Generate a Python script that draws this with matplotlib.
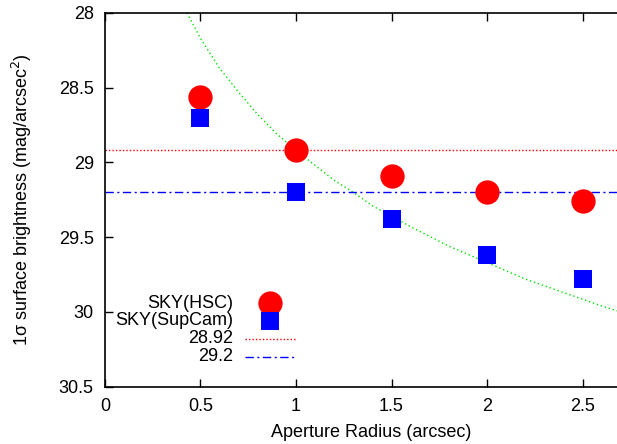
import matplotlib
matplotlib.use("Agg")
from matplotlib import pyplot as plt
from matplotlib.ticker import FormatStrFormatter

plt.rcParams['font.family'] = ['Liberation Sans', 'DejaVu Sans']

# aperture radius (arcsec)
radius = [0.5, 1.0, 1.5, 2.0, 2.5]
sky_hsc = [28.56, 28.92, 29.09, 29.20, 29.26]
sky_supcam = [28.70, 29.20, 29.38, 29.62, 29.78]

# reference levels
level_hsc = 28.92
level_supcam = 29.2

# green dotted curve
curve_r = [0.43, 0.45, 0.5, 0.55, 0.6, 0.7, 0.8, 0.9, 1.0, 1.1, 1.2, 1.3,
           1.4, 1.5, 1.6, 1.8, 2.0, 2.2, 2.4, 2.6, 2.7]
curve_sb = [28.00, 28.05, 28.17, 28.27, 28.37, 28.53, 28.68, 28.81, 28.92,
            29.02, 29.12, 29.20, 29.29, 29.36, 29.43, 29.56, 29.67, 29.78,
            29.87, 29.96, 30.00]

x_ticks = [0, 0.5, 1, 1.5, 2, 2.5]
y_ticks = [28, 28.5, 29, 29.5, 30, 30.5]

FS = 13

fig = plt.figure(figsize=(6.17, 4.44), dpi=100)
ax = fig.add_axes([0.170, 0.129, 0.830, 0.842])

ax.plot(curve_r, curve_sb, color="#00e000", lw=1.0, ls=(0, (1, 2)))
ax.axhline(level_hsc, color="red", lw=1.0, ls=(0, (1, 1.5)))
ax.axhline(level_supcam, color="blue", lw=1.0, ls=(0, (6, 2.5, 1.5, 2.5)))
ax.plot(radius, sky_hsc, "o", color="red", ms=17.5, mew=0, ls="none")
ax.plot(radius, sky_supcam, "s", color="blue", ms=12.5, mew=0, ls="none")

ax.set_xlim(0, 2.68)
ax.set_ylim(30.5, 28)
ax.set_xticks(x_ticks)
ax.set_yticks(y_ticks)
ax.xaxis.set_major_formatter(FormatStrFormatter('%g'))
ax.yaxis.set_major_formatter(FormatStrFormatter('%g'))
ax.tick_params(direction="in", length=6, width=1, labelsize=FS, top=True)
ax.tick_params(axis="y", pad=8)
ax.tick_params(axis="x", pad=8)
ax.spines['right'].set_visible(False)
for s in ['left', 'bottom', 'top']:
    ax.spines[s].set_linewidth(1.2)

ax.set_xlabel("Aperture Radius (arcsec)", fontsize=FS, va="center")
ax.set_ylabel("1σ surface brightness (mag/arcsec$^2$)", fontsize=FS, va="center")
ax.xaxis.set_label_coords((371 - 105) / 512, (386.7 - 432) / 373.7)
ax.yaxis.set_label_coords((22 - 105) / 512, 0.5)

# gnuplot-style key: right-aligned labels, samples to the right
key_labels = ["SKY(HSC)", "SKY(SupCam)", "28.92", "29.2"]
key_y = [0.223, 0.176, 0.128, 0.080]
tx = (233 - 105) / 512
sx0, sx1 = (245 - 105) / 512, (296 - 105) / 512
for lab, yy in zip(key_labels, key_y):
    ax.text(tx, yy, lab, transform=ax.transAxes, ha="right", va="center", fontsize=FS)
sxm = (sx0 + sx1) / 2
ax.plot([sxm], [key_y[0]], "o", color="red", ms=17.5, mew=0, transform=ax.transAxes, clip_on=False)
ax.plot([sxm], [key_y[1]], "s", color="blue", ms=12.5, mew=0, transform=ax.transAxes, clip_on=False)
ax.plot([sx0, sx1], [key_y[2]] * 2, color="red", lw=1.0, ls=(0, (1, 1.5)), transform=ax.transAxes)
ax.plot([sx0, sx1], [key_y[3]] * 2, color="blue", lw=1.0, ls=(0, (6, 2.5, 1.5, 2.5)), transform=ax.transAxes)

fig.savefig("out.png", dpi=100)
